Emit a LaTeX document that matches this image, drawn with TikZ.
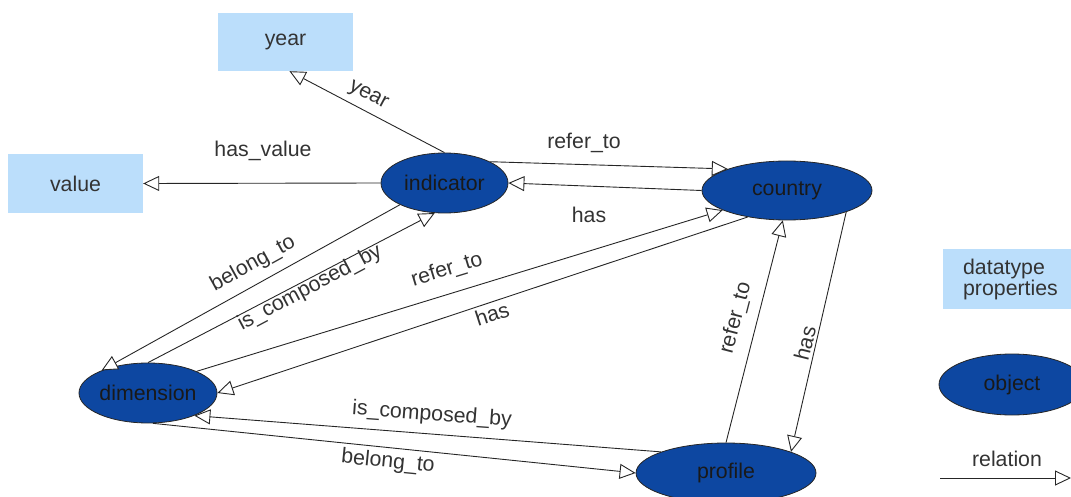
\documentclass[tikz,border=0pt]{standalone}
\usepackage{fontspec}
\setmainfont{Liberation Sans}
\usetikzlibrary{arrows.meta,shapes.geometric,calc}
\definecolor{boxblue}{HTML}{BBDEFB}
\definecolor{objblue}{HTML}{0D47A1}
\definecolor{txt}{HTML}{333333}
\begin{document}
\begin{tikzpicture}[x=1pt,y=-1pt,
  font=\fontsize{21.3}{21}\selectfont,
  dtbox/.style={rectangle, fill=boxblue, minimum width=135pt, minimum height=58pt, inner sep=0pt, text=txt},
  obj/.style={ellipse, fill=objblue, draw=black!85, line width=0.8pt, inner sep=0pt, text=black!90},
  rel/.style={draw=black!85, line width=0.9pt, -{Triangle[open, fill=white, length=16pt, width=15pt]}},
  lbl/.style={text=txt, inner sep=0pt},
]
\useasboundingbox (0,0) rectangle (1071,497);
% datatype boxes
\node[dtbox] (year) at (285.5,42) {year};
\node[dtbox, minimum height=59pt] (value) at (75.5,183.5) {value};
% objects
\node[obj, minimum width=127pt, minimum height=60pt] (indicator) at (444.5,183) {indicator};
\node[obj, minimum width=170pt, minimum height=59pt] (country) at (787,190.5) {country};
\node[obj, minimum width=138pt, minimum height=60pt] (dimension) at (148,393) {dimension};
\node[obj, minimum width=180pt, minimum height=60pt] (profile) at (726,473) {profile};
% legend
\node[dtbox, minimum height=60pt, align=left] (dt) at (1010.5,279) {datatype\\properties};
\node[obj, minimum width=146pt, minimum height=61pt] (object) at (1012,384.5) {object};
\coordinate (r1) at (940,478);
\coordinate (r2) at (1071,478);
\draw[rel] (r1) -- (r2);
\node[lbl] (lrel) at (1007,459) {relation};
% relations
\draw[rel] (indicator.north) -- ([xshift=4pt]year.south);
\draw[rel] (indicator.west) -- (value.east);
\draw[rel] (indicator.25) -- (country.160);
\draw[rel] (country.west) -- (indicator.east);
\draw[rel] (dimension.24) -- (country.197);
\draw[rel] (country.214) -- (dimension.east);
\draw[rel] (indicator.206) -- (dimension.154);
\draw[rel] (dimension.north) -- (indicator.252);
\draw[rel] (profile.162) -- (dimension.334);
\draw[rel] (dimension.279) -- (profile.west);
\draw[rel] (profile.north) -- (country.262);
\draw[rel] (country.340) -- (profile.18);
% labels
\node[lbl, rotate=-28] (l1) at (368,96) {year};
\node[lbl] (l2) at (263,151) {has\_value};
\node[lbl] (l3) at (584,143) {refer\_to};
\node[lbl] (l4) at (589,215) {has};
\node[lbl, rotate=29] (l5) at (253,264) {belong\_to};
\node[lbl, rotate=28] (l6) at (310,288) {is\_composed\_by};
\node[lbl, rotate=17] (l7) at (447,270) {refer\_to};
\node[lbl, rotate=18] (l8) at (492,314) {has};
\node[lbl, rotate=-4.2] (l9) at (432,415) {is\_composed\_by};
\node[lbl, rotate=-5.7] (l10) at (388,462) {belong\_to};
\node[lbl, rotate=75.4] (l11) at (736,318) {refer\_to};
\node[lbl, rotate=76] (l12) at (805,343) {has};
\end{tikzpicture}
\end{document}
